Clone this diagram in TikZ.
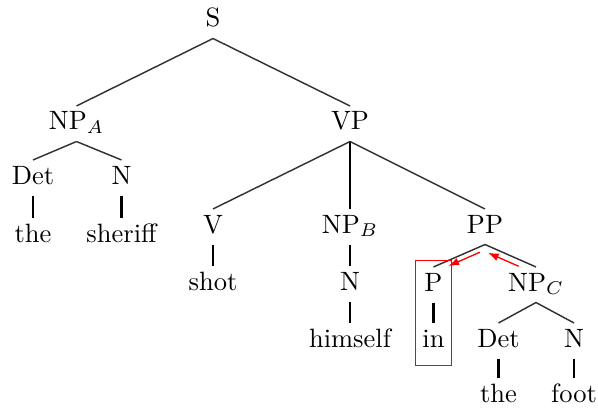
\documentclass[tikz,border=0pt]{standalone}
\usetikzlibrary{calc,fit,arrows.meta}
\begin{document}
\begin{tikzpicture}[x=0.3774pt,y=-0.3774pt,
  tn/.style={inner sep=0pt,text height=8.87pt,text depth=4.15pt},
  edge/.style={line width=0.55pt,black!80},
  bar/.style={line width=0.9pt,black},
  redbox/.style={draw=red,line width=0.45pt,inner xsep=2.3pt,inner ysep=2.5pt},
  move/.style={red,line width=0.5pt,-{Latex[length=4pt,width=3pt]}}]
\useasboundingbox (0,0) rectangle (598,408);
% nodes
\node[tn] (S) at (213,20.75) {S};
\node[tn] (NPA) at (76.5,123.75) {NP$_A$};
\node[tn] (VP) at (350,123.75) {VP};
\node[tn] (DetA) at (33,177.75) {Det};
\node[tn] (NA) at (121.5,177.75) {N};
\node[tn] (theA) at (33,235.75) {the};
\node[tn] (sheriff) at (121.5,235.75) {sheriff};
\node[tn] (V) at (213,226.75) {V};
\node[tn] (NPB) at (350,226.75) {NP$_B$};
\node[tn] (PP) at (485,226.75) {PP};
\node[tn] (shot) at (213,284) {shot};
\node[tn] (NB) at (350,284) {N};
\node[tn] (P) at (433.5,284.75) {P};
\node[tn] (NPC) at (536,284.75) {NP$_C$};
\node[tn] (himself) at (350,340.75) {himself};
\node[tn] (in) at (433.5,340.75) {in};
\node[tn] (DetC) at (498.5,340.75) {Det};
\node[tn] (NC) at (574,340.75) {N};
\node[tn] (theC) at (498.5,395.75) {the};
\node[tn] (foot) at (574,395.75) {foot};
% edges
\draw[edge] (S.south) -- (NPA.north);
\draw[edge] (S.south) -- (VP.north);
\draw[edge] (NPA.south) -- (DetA.north);
\draw[edge] (NPA.south) -- (NA.north);
\draw[bar] (DetA.south) -- (theA.north);
\draw[bar] (NA.south) -- (sheriff.north);
\draw[edge] (VP.south) -- (V.north);
\draw[bar] (VP.south) -- (NPB.north);
\draw[edge] (VP.south) -- (PP.north);
\draw[bar] (V.south) -- (shot.north);
\draw[bar] (NPB.south) -- (NB.north);
\draw[bar] (NB.south) -- (himself.north);
\draw[edge] (PP.south) -- (P.north);
\draw[edge] (PP.south) -- (NPC.north);
\draw[bar] (P.south) -- (in.north);
\draw[edge] (NPC.south) -- (DetC.north);
\draw[edge] (NPC.south) -- (NC.north);
\draw[bar] (DetC.south) -- (theC.north);
\draw[bar] (NC.south) -- (foot.north);
% red box and movement arrows
\node[redbox,fit=(P)(in)] (box) {};
\draw[move] ($(PP.south)!0.1!(P.north)+(0,5.5)$) -- ($(PP.south)!0.71!(P.north)+(0,5.5)$);
\draw[move] ($(PP.south)!0.68!(NPC.north)+(-1,6.5)$) -- ($(PP.south)!0.08!(NPC.north)+(-1,6.5)$);
\end{tikzpicture}
\end{document}
